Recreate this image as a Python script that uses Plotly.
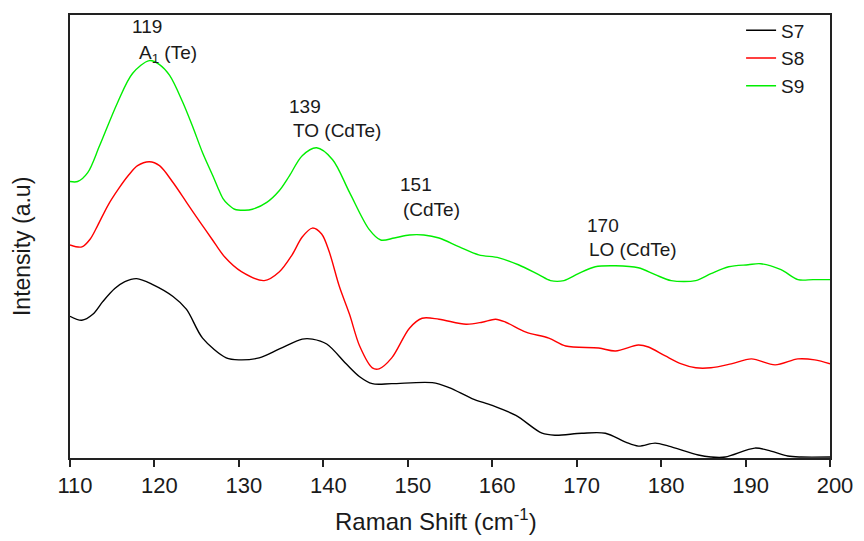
import plotly.graph_objects as go

# Raman spectra of samples S7, S8, S9 (vertically offset, arbitrary units)
s9_shift = [110.0, 110.9, 112.1, 113.5, 115.6, 117.4, 119.4, 120.6, 121.8, 123.3, 124.5, 125.7,
            126.9, 127.5, 128.1, 128.7, 129.5, 130.7, 131.6, 133.3, 134.8, 136.0, 137.5, 139.2,
            141.1, 143.1, 145.4, 146.8, 148.4, 150.2, 151.9, 153.7, 156.1, 158.4, 160.8, 163.1,
            165.5, 166.9, 168.5, 170.2, 172.2, 174.6, 177.3, 179.3, 181.2, 184.1, 185.9, 188.0,
            190.3, 191.8, 194.2, 196.2, 198.0, 200.0]
s9_int = [279, 279, 288, 315, 358, 388, 401, 397, 386, 360, 335, 308,
          285, 273, 262, 256, 251, 250, 251, 258, 270, 285, 305, 313,
          301, 268, 231, 220, 222, 225, 225, 222, 213, 205, 202, 195,
          185, 179, 179, 186, 193, 194, 192, 185, 179, 179, 186, 193,
          195, 196, 190, 180, 180, 180]

s8_shift = [110.0, 111.4, 112.4, 113.3, 114.5, 115.7, 116.9, 118.0, 119.4, 120.6, 122.2, 123.8,
            125.4, 126.8, 128.3, 130.3, 133.0, 134.8, 136.3, 137.5, 138.7, 139.8, 140.7, 141.9,
            143.1, 144.3, 145.8, 146.6, 148.1, 150.2, 151.7, 153.7, 156.9, 158.8, 160.4, 161.6,
            164.0, 166.7, 168.7, 172.6, 174.6, 177.3, 178.5, 180.5, 182.4, 184.1, 185.9, 188.3,
            190.7, 193.5, 196.2, 198.2, 200.0]
s8_int = [215, 213, 221, 235, 255, 271, 285, 295, 299, 295, 278, 258,
          238, 221, 203, 188, 179, 188, 205, 223, 232, 226, 208, 173,
          145, 113, 91, 90, 101, 131, 141, 140, 135, 137, 140, 137,
          127, 121, 113, 111, 108, 114, 112, 103, 95, 91, 91, 95,
          100, 94, 100, 99, 95]

s7_shift = [110.0, 111.4, 112.7, 113.9, 115.3, 116.5, 117.9, 119.8, 122.2, 123.8, 125.7, 128.5,
            130.1, 132.4, 134.8, 137.5, 138.7, 140.4, 142.7, 144.3, 145.8, 148.1, 152.9, 154.9,
            157.6, 160.0, 162.8, 165.9, 167.5, 170.6, 173.4, 175.8, 177.3, 179.3, 180.9, 184.4,
            185.9, 187.6, 191.1, 193.0, 195.0, 196.6, 200.0]
s7_int = [143, 139, 145, 158, 171, 178, 181, 175, 163, 150, 121, 101,
          99, 101, 110, 120, 120, 115, 95, 82, 75, 75, 76, 71,
          60, 53, 43, 25, 23, 25, 25, 16, 12, 15, 12, 3,
          1, 1, 10, 7, 2, 1, 1]

x_ticks = [110, 120, 130, 140, 150, 160, 170, 180, 190, 200]

# Peak assignments: (Raman shift, height, label)
peak_labels = [
    (119.1, 435, "119"), (121.6, 408, "A<sub>1</sub> (Te)"),
    (137.8, 355, "139"), (141.6, 330, "TO (CdTe)"),
    (151.0, 276, "151"), (152.8, 251, "(CdTe)"),
    (173.1, 235, "170"), (176.7, 210, "LO (CdTe)"),
]

FONT = "Arial, Liberation Sans, sans-serif"
INK = "#1a1a1a"

fig = go.Figure()
series = [("S7", s7_shift, s7_int, "#000000"),
          ("S8", s8_shift, s8_int, "#ff0000"),
          ("S9", s9_shift, s9_int, "#00ee00")]
for name, xs, ys, col in series:
    fig.add_trace(go.Scatter(
        x=xs, y=ys, mode="lines", name=name,
        line=dict(color=col, width=1.4, shape="spline", smoothing=0.9),
    ))

for xp, yp, txt in peak_labels:
    fig.add_annotation(x=xp, y=yp, text=txt, showarrow=False,
                       font=dict(family=FONT, size=19, color=INK),
                       xanchor="center", yanchor="middle")

# Axis titles placed as paper annotations
fig.add_annotation(xref="paper", yref="paper", x=0.4816, y=-0.141,
                   text="Raman Shift (cm<sup>-1</sup>)", showarrow=False,
                   font=dict(family=FONT, size=24, color=INK),
                   xanchor="center", yanchor="middle")
fig.add_annotation(xref="paper", yref="paper", x=-0.063, y=0.4765,
                   text="Intensity (a.u)", showarrow=False, textangle=-90,
                   font=dict(family=FONT, size=23, color=INK),
                   xanchor="center", yanchor="middle")

fig.update_layout(
    width=864, height=541,
    margin=dict(l=70, r=32, t=11, b=83),
    paper_bgcolor="white", plot_bgcolor="white",
    font=dict(family=FONT, color=INK),
    showlegend=True,
    legend=dict(x=0.883, y=1.008, xanchor="left", yanchor="top",
                bgcolor="rgba(0,0,0,0)", font=dict(size=19, family=FONT, color=INK),
                tracegroupgap=0, itemwidth=30),
    xaxis=dict(
        range=[110, 200], tickvals=x_ticks, ticktext=[str(t) for t in x_ticks],
        showgrid=False, zeroline=False,
        showline=True, linecolor="#222222", linewidth=2, mirror=True,
        ticks="outside", ticklen=7, tickwidth=1.5, tickcolor="#222222",
        ticklabelshift=5,
        tickfont=dict(family=FONT, size=22, color=INK),
    ),
    yaxis=dict(
        range=[0, 447], showticklabels=False, ticks="",
        showgrid=False, zeroline=False,
        showline=True, linecolor="#222222", linewidth=2, mirror=True,
    ),
)

fig.write_html("out.html")
